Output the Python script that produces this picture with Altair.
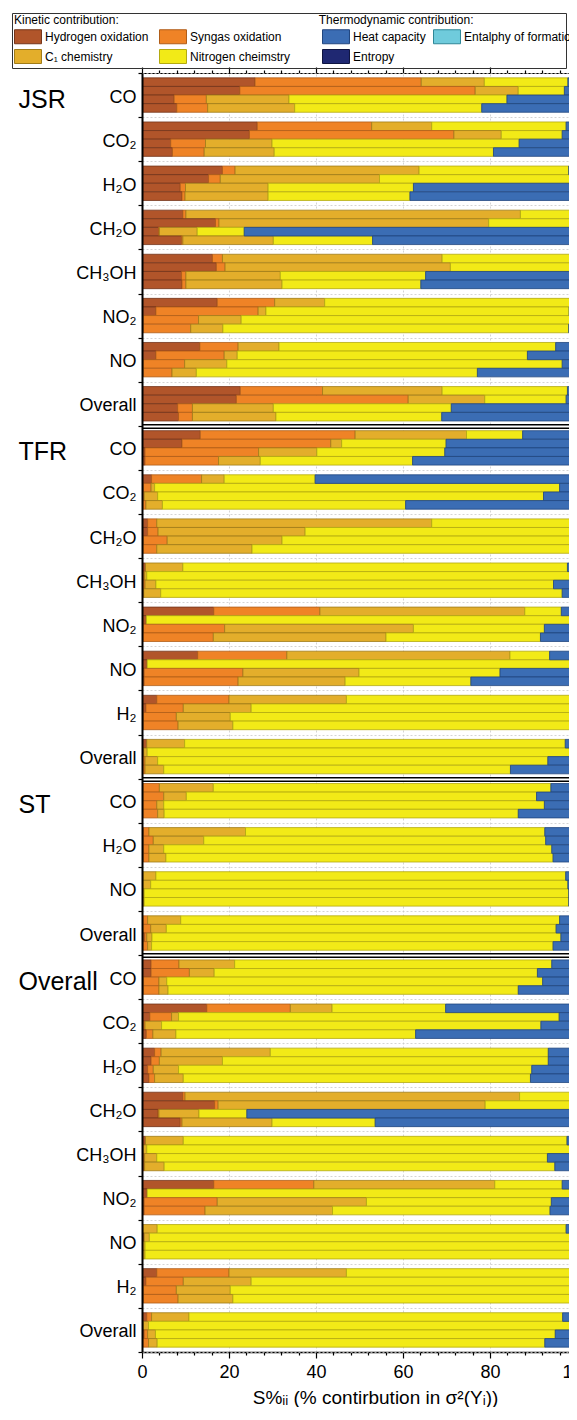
import altair as alt
import pandas as pd

# ---------------- data ----------------
GROUPS = ["JSR", "TFR", "ST", "Overall"]
JSR_SPECIES = ["CO", "CO₂", "H₂O", "CH₂O", "CH₃OH", "NO₂", "NO", "Overall"]
TFR_SPECIES = ["CO", "CO₂", "CH₂O", "CH₃OH", "NO₂", "NO", "H₂", "Overall"]
ST_SPECIES = ["CO", "H₂O", "NO", "Overall"]
OVERALL_SPECIES = ["CO", "CO₂", "H₂O", "CH₂O", "CH₃OH", "NO₂", "NO", "H₂", "Overall"]
RUNS = ["a", "b", "c", "d"]

KINETIC = ["Hydrogen oxidation", "Syngas oxidation", "C₁ chemistry", "Nitrogen cheimstry"]
THERMO = ["Heat capacity", "Entalphy of formation", "Entropy"]

# 4 bars per species, species in the order above (JSR, TFR, ST, Overall)
HYDROGEN_OXIDATION = [
    26.0, 22.5, 7.4, 8.0,  26.5, 24.7, 6.6, 7.0,  18.5, 15.3, 8.8, 9.2,  9.4, 16.9, 3.8, 9.1,
    16.2, 17.1, 9.1, 9.2,  17.3, 3.2, 0.3, 0.3,  13.3, 3.2, 0.3, 0.3,  22.6, 21.7, 8.2, 8.4,
    13.4, 9.2, 0.7, 0.7,  2.2, 0.3, 0.2, 0.2,  1.3, 1.3, 0.3, 0.2,  0.8, 0.3, 0.3, 0.2,
    16.5, 1.0, 0.3, 0.2,  12.8, 1.2, 0.5, 0.5,  3.4, 0.9, 0.3, 0.3,  1.1, 0.2, 0.2, 0.2,
    0.2, 0.2, 0.2, 0.2,  0.3, 0.3, 0.3, 0.3,  0.2, 0.2, 0.2, 0.2,  0.2, 0.2, 0.6, 0.2,
    2.1, 2.1, 0.3, 0.3,  14.9, 1.8, 0.4, 1.0,  2.9, 2.1, 1.3, 1.6,  9.4, 16.7, 3.7, 8.8,
    0.8, 0.3, 0.4, 0.4,  16.5, 1.2, 0.5, 0.5,  0.2, 0.5, 0.2, 0.2,  3.4, 0.9, 0.3, 0.3,
    1.1, 0.3, 0.5, 0.2,
]
SYNGAS_OXIDATION = [
    38.2, 54.1, 7.4, 7.1,  26.3, 47.0, 8.0, 7.3,  2.9, 2.7, 1.2, 0.7,  0.7, 0.8, 0.2, 0.3,
    2.3, 2.0, 1.0, 0.9,  13.2, 23.5, 12.7, 10.9,  8.8, 15.7, 9.5, 6.6,  18.9, 39.5, 3.4, 3.2,
    35.6, 34.2, 26.1, 16.9,  11.5, 1.8, 0.3, 0.7,  2.1, 2.4, 5.5, 3.2,  0.0, 0.3, 0.4, 0.2,
    24.4, 0.0, 18.7, 16.2,  20.5, 0.0, 22.7, 21.6,  16.6, 8.6, 7.6, 8.0,  0.0, 0.2, 0.5, 0.5,
    3.8, 4.8, 3.2, 3.4,  1.3, 2.3, 1.3, 1.3,  0.0, 0.0, 0.0, 0.0,  1.1, 1.8, 0.5, 1.1,
    6.4, 8.8, 3.6, 3.6,  19.2, 5.0, 0.3, 1.5,  1.5, 1.9, 1.3, 1.3,  0.5, 0.8, 0.2, 0.4,
    0.0, 0.0, 0.2, 0.2,  23.0, 0.0, 16.8, 14.0,  0.0, 0.0, 0.0, 0.0,  16.6, 8.6, 7.6, 8.0,
    1.1, 0.0, 0.8, 1.3,
]
C1_CHEMISTRY = [
    14.5, 9.9, 19.0, 20.0,  13.8, 10.9, 15.3, 16.1,  42.3, 36.6, 19.0, 19.1,  76.9, 62.0, 8.7, 20.8,
    50.5, 51.8, 21.7, 22.1,  11.5, 1.8, 9.8, 7.4,  9.4, 3.0, 9.7, 5.6,  27.5, 17.6, 18.6, 19.2,
    25.6, 2.5, 13.4, 9.6,  5.2, 0.8, 3.1, 3.8,  63.2, 33.8, 26.4, 21.9,  8.6, 0.5, 2.5, 3.9,
    47.1, 0.0, 43.4, 39.7,  51.3, 0.0, 26.7, 24.6,  27.0, 15.6, 12.4, 12.6,  8.7, 0.8, 2.9, 4.3,
    12.4, 5.2, 1.6, 1.5,  22.2, 11.6, 3.4, 3.9,  3.0, 1.8, 0.3, 0.3,  7.6, 3.6, 1.2, 0.9,
    12.8, 5.7, 1.8, 2.1,  9.6, 1.6, 3.8, 5.3,  25.1, 14.5, 5.8, 6.6,  76.9, 61.4, 9.2, 20.7,
    8.7, 0.8, 2.8, 4.5,  41.6, 0.0, 34.3, 29.3,  3.3, 1.2, 0.5, 0.5,  27.0, 15.6, 12.4, 12.6,
    8.6, 1.2, 1.8, 2.0,
]
NITROGEN_CHEMISTRY = [
    19.2, 10.6, 50.1, 43.0,  30.9, 14.0, 56.8, 50.4,  34.4, 45.4, 33.4, 32.6,  12.2, 20.3, 10.8, 22.8,
    29.7, 29.1, 33.4, 31.9,  56.6, 69.7, 75.6, 79.5,  63.6, 66.7, 77.1, 64.6,  28.8, 18.7, 40.9, 38.1,
    12.9, 24.0, 29.4, 35.0,  20.9, 93.1, 88.7, 55.9,  32.5, 61.4, 67.0, 73.2,  88.4, 98.9, 91.4, 92.3,
    8.4, 99.0, 30.1, 35.5,  9.1, 98.1, 32.4, 28.9,  52.1, 74.9, 79.7, 79.1,  87.5, 98.9, 89.7, 79.7,
    77.6, 80.5, 87.5, 81.4,  68.8, 78.6, 89.2, 89.0,  94.2, 95.9, 97.6, 97.6,  87.1, 89.6, 94.0, 92.3,
    72.9, 74.3, 86.4, 80.5,  26.1, 87.5, 87.2, 55.1,  63.9, 74.9, 81.2, 79.8,  12.4, 21.0, 11.0, 23.7,
    88.2, 98.9, 89.8, 89.8,  15.5, 98.1, 42.5, 50.0,  94.0, 96.6, 97.8, 97.8,  52.2, 74.9, 79.7, 79.1,
    85.9, 97.4, 91.9, 89.1,
]
HEAT_CAPACITY = [
    2.2, 2.9, 16.1, 21.8,  2.5, 3.4, 13.3, 19.2,  1.9, 0.0, 37.6, 38.5,  0.8, 0.0, 76.6, 47.1,
    1.3, 0.0, 34.9, 35.9,  1.4, 1.8, 1.5, 1.9,  4.9, 11.3, 3.4, 22.9,  2.2, 2.5, 28.9, 31.1,
    12.4, 30.1, 30.4, 37.9,  60.2, 4.1, 7.7, 39.4,  0.8, 1.1, 0.8, 1.4,  2.2, 0.0, 5.6, 3.6,
    3.7, 0.0, 7.6, 8.2,  6.3, 0.7, 17.7, 24.4,  0.8, 0.0, 0.0, 0.0,  2.8, 0.0, 6.9, 15.5,
    6.1, 9.2, 7.5, 13.4,  7.4, 7.3, 5.8, 5.5,  2.5, 2.0, 1.8, 1.8,  4.0, 4.7, 3.7, 5.5,
    5.9, 9.1, 7.9, 13.5,  30.3, 4.1, 8.1, 37.1,  6.6, 6.6, 10.3, 10.8,  0.8, 0.0, 76.1, 46.4,
    2.2, 0.0, 6.6, 5.0,  3.4, 0.7, 5.9, 6.1,  2.5, 1.5, 1.7, 1.7,  0.8, 0.0, 0.0, 0.0,
    3.4, 1.0, 4.9, 7.4,
]
ENTHALPY_OF_FORMATION = [0.0] * 116
ENTROPY = [0.0] * 116

# ---------------- styles ----------------
FILL = {
    "Hydrogen oxidation": "#b1552a", "Syngas oxidation": "#ef8326", "C₁ chemistry": "#e3ae2b",
    "Nitrogen cheimstry": "#f2ea17", "Heat capacity": "#3b6db4",
    "Entalphy of formation": "#6fcbdc", "Entropy": "#1f2872",
}
STROKE = {
    "Hydrogen oxidation": "#74351a", "Syngas oxidation": "#b05d18", "C₁ chemistry": "#a07c18",
    "Nitrogen cheimstry": "#b3aa10", "Heat capacity": "#21467f",
    "Entalphy of formation": "#2f8797", "Entropy": "#0e1440",
}
FONT = "Liberation Sans"
NBSP = "\u00a0"
ZWSP = "\u200b"   # keeps the trailing spaces of the legend title from being trimmed

# ---------------- long table ----------------
species_by_group = [JSR_SPECIES, TFR_SPECIES, ST_SPECIES, OVERALL_SPECIES]
blocks = []
group_first = {}
group_last = []
for g, sp in zip(GROUPS, species_by_group):
    keys = [f"{g}|{s}" for s in sp]
    group_first[keys[0]] = g
    group_last.append(keys[-1])
    blocks.extend(keys)

COMPONENTS = KINETIC + THERMO
series = [HYDROGEN_OXIDATION, SYNGAS_OXIDATION, C1_CHEMISTRY, NITROGEN_CHEMISTRY,
          HEAT_CAPACITY, ENTHALPY_OF_FORMATION, ENTROPY]
rows = []
i = 0
for b in blocks:
    for r in RUNS:
        for k, (comp, vals) in enumerate(zip(COMPONENTS, series)):
            rows.append({"block": b, "run": r, "component": comp, "order": k,
                         "kind": "kin" if comp in KINETIC else "thermo", "value": vals[i]})
        i += 1
df = pd.DataFrame(rows)

base = alt.Chart(df).transform_filter("datum.value > 0").transform_stack(
    stack="value", groupby=["block", "run"], as_=["x0", "x1"],
    sort=[alt.SortField(field="order", order="ascending")],
)

boundary_test = "indexof(" + str(group_last[:-1]) + ", datum.value) >= 0"
group_expr = "".join(f"datum.value == '{k}' ? '{v}' : " for k, v in group_first.items()) + "''"
minor_tick = {"condition": {"test": "datum.value % 20 === 0", "value": 6}, "value": 3}
x_values = list(range(0, 101, 4))

y_scale = alt.Scale(domain=blocks, paddingInner=0, paddingOuter=0)
x_scale = alt.Scale(domain=[0, 100], nice=False, zero=False)
yoff = alt.YOffset("run:N", sort=RUNS, scale=alt.Scale(domain=RUNS, paddingInner=0, paddingOuter=0.564))

SWATCH = "M-1,-1H2.857V1H-1Z"   # 27 x 14 swatch with symbolSize 196
legend_common = dict(
    orient="none", columns=2, direction="horizontal",
    symbolType=SWATCH, symbolSize=196, symbolStrokeWidth=1, symbolOpacity=1,
    labelFont=FONT, labelFontSize=12, labelColor="black", labelOffset=16, labelLimit=400,
    rowPadding=1,
)

kin_bars = base.transform_filter("datum.kind == 'kin'").mark_bar(clip=True, strokeWidth=0.8).encode(
    y=alt.Y("block:N", scale=y_scale, title=None, axis=alt.Axis(
        orient="left", tickBand="extent", labelExpr="split(datum.label, '|')[1]",
        labelFontSize=18, labelFont=FONT, labelColor="black", labelPadding=2, labelLimit=300,
        labelOffset=2,
        tickSize=4, tickColor="black", tickWidth=1.2, domainColor="black", domainWidth=2,
        grid=True, zindex=1,
        gridColor={"condition": {"test": boundary_test, "value": "black"}, "value": "#c9c9c9"},
        gridWidth={"condition": {"test": boundary_test, "value": 5}, "value": 0.8},
        gridDash={"condition": {"test": boundary_test, "value": []}, "value": [2, 2]},
    )),
    yOffset=yoff,
    x=alt.X("x0:Q", scale=x_scale, axis=alt.Axis(
        orient="bottom", values=x_values, labelOverlap=False, labelBound=False, labelFlush=False,
        labelExpr="datum.value % 20 === 0 ? datum.label : ''",
        labelFontSize=18, labelFont=FONT, labelColor="black", labelPadding=5,
        tickSize=minor_tick, tickColor="black", tickWidth=1.2, domainColor="black", domainWidth=1.5,
        grid=True, gridColor="#c9c9c9", gridDash=[2, 2], gridWidth=0.8,
        gridOpacity={"condition": {"test": "datum.value % 20 === 0 && datum.value > 0 && datum.value < 100",
                                   "value": 1}, "value": 0},
        title="S%ᵢᵢ (% contirbution in σ²(Yᵢ))", titleFont=FONT, titleFontSize=19,
        titleFontWeight="normal", titleColor="black", titlePadding=7, titleX=233, titleAlign="center",
    )),
    x2="x1:Q",
    color=alt.Color("component:N", scale=alt.Scale(domain=KINETIC, range=[FILL[c] for c in KINETIC]),
                    legend=alt.Legend(
                        title="Kinetic contribution:" + NBSP * 60 + "Thermodynamic contribution:"
                              + NBSP * 27 + ZWSP,
                        legendX=-130, legendY=-60, padding=2, strokeColor="#333", columnPadding=8,
                        titleFont=FONT, titleFontSize=12, titleFontWeight="normal", titleColor="black",
                        titleLimit=2000, titlePadding=2, **legend_common)),
    stroke=alt.Stroke("component:N", scale=alt.Scale(domain=KINETIC, range=[STROKE[c] for c in KINETIC])),
)

thermo_bars = base.transform_filter("datum.kind == 'thermo'").mark_bar(clip=True, strokeWidth=0.8).encode(
    y=alt.Y("block:N", scale=y_scale, axis=None),
    yOffset=yoff,
    x=alt.X("x0:Q", scale=x_scale, axis=None),
    x2="x1:Q",
    color=alt.Color("component:N", scale=alt.Scale(domain=THERMO, range=[FILL[c] for c in THERMO]),
                    legend=alt.Legend(title=None, legendX=180, legendY=-44, padding=0, columnPadding=5,
                                      **legend_common)),
    stroke=alt.Stroke("component:N", scale=alt.Scale(domain=THERMO, range=[STROKE[c] for c in THERMO])),
)

helper = base.mark_point(opacity=0).encode(
    y=alt.Y("block:N", scale=y_scale, title=None, axis=alt.Axis(
        orient="left", tickBand="extent", labelExpr=group_expr, labelAlign="left",
        labelFontSize=25, labelFont=FONT, labelColor="black", labelPadding=124, labelLimit=300,
        labelOffset=4,
        ticks=False, tickSize=0, domain=False, grid=True, zindex=1,
        gridColor="white", gridWidth=2,
        gridOpacity={"condition": {"test": boundary_test, "value": 1}, "value": 0},
    )),
    x=alt.X("x1:Q", scale=x_scale, axis=alt.Axis(
        orient="top", values=x_values, labels=False, tickSize=minor_tick, tickColor="black",
        tickWidth=1.2, domainColor="black", domainWidth=1.2, grid=False, title=None,
    )),
)

# the figure is cropped on its right edge: the plot runs 8px past the visible page
chart = alt.layer(kin_bars, thermo_bars, helper).resolve_scale(
    x="shared", y="shared", color="independent", stroke="independent"
).resolve_axis(
    x="independent", y="independent"
).resolve_legend(
    color="independent", stroke="independent"
).properties(
    width=435, height=1279,
    autosize=alt.AutoSizeParams(type="none"),
    padding={"left": 134, "top": 65, "right": -8, "bottom": 55},
).configure_view(strokeWidth=0)

chart.save("out.html", embed_options={"renderer": "svg", "actions": False})
